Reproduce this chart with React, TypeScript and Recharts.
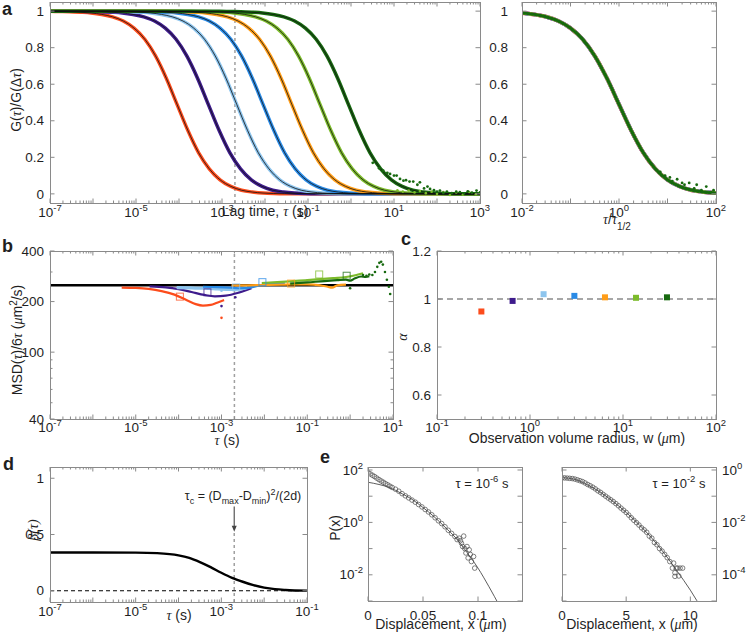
import React from 'react';
import { ComposedChart, Line, Scatter, XAxis, YAxis, ReferenceLine, ReferenceDot } from 'recharts';

const SANS = '"Liberation Sans", Arial, Helvetica, sans-serif';
const SERIF = '"Liberation Serif", "DejaVu Serif", serif';
const INK = '#1f1f1f';
const FRAME = '#8a8a8a';

// one colour per observation volume, smallest to largest
const COLORS = ['#fc4c1c', '#3e1b8c', '#8dc5ee', '#2a8be6', '#ff9d18', '#7cbb2b', '#17690f'];

// ---------- a: G(tau)/G(dtau) ----------
// collapsed curve (tau / tau_1/2 -> G)
const SHAPE_X = [1e-8, 1e-3, 0.00178, 0.00316, 0.00562, 0.01, 0.0178, 0.0316, 0.0562, 0.1, 0.178, 0.316, 0.562, 1, 1.78, 3.16, 5.62, 10, 17.8, 31.6, 56.2, 100, 178, 316, 1e8];
const SHAPE_G = [1, 0.999, 0.998, 0.997, 0.994, 0.99, 0.982, 0.969, 0.946, 0.907, 0.846, 0.755, 0.633, 0.49, 0.348, 0.226, 0.137, 0.077, 0.041, 0.02, 0.01, 0.0044, 0.0019, 0.0009, 0];
// half-decay lag time of each curve (s)
const TAU_HALF = [9e-5, 4.8e-4, 2.2e-3, 9e-3, 0.042, 0.19, 0.87];
// noisy tail of the largest volume
const A_TAIL_T = [3.2, 4.5, 5.6, 7, 8.1, 10, 11.5, 13.8, 16.6, 19, 23, 28, 35, 40, 50, 60, 69, 85, 100, 117, 140, 170, 220, 280, 340, 420, 520, 650, 830, 1000];
const A_TAIL_G = [0.17, 0.14, 0.127, 0.115, 0.109, 0.1, 0.1, 0.082, 0.072, 0.075, 0.067, 0.067, 0.05, 0.063, 0.03, 0.04, 0.027, 0.02, 0.012, 0.018, 0.005, 0.012, 0.004, 0.012, 0.009, 0.003, 0.014, 0.006, 0.018, 0.008];
const A_LG_T = [12, 16, 22, 30, 40, 55, 75, 100, 140, 200, 280, 400, 560, 800, 1000];
const A_LG_G = [0.02, 0.012, 0.018, 0.008, 0.015, 0.004, 0.012, 0, 0.01, -0.006, 0.008, -0.004, 0.01, -0.002, 0.006];
const A2_TAIL_X = [7.1, 8.9, 11.2, 12.6, 15.8, 20, 22.4, 28, 35.5, 40, 50, 63, 79, 89];
const A2_TAIL_G = [0.12, 0.1, 0.09, 0.07, 0.08, 0.06, 0.05, 0.06, 0.03, 0.05, 0.02, 0.04, 0.01, 0.02];
const A_X_EXP = [-7, -5, -3, -1, 1, 3];
const A2_X_EXP = [-2, 0, 2];
const A_Y_TICKS = [0, 0.2, 0.4, 0.6, 0.8, 1];
const T_MARK = 2e-3;

// ---------- b: MSD/6tau ----------
const B_T = [
  [4.7e-6, 1e-5, 2e-5, 4e-5, 8e-5, 1.6e-4, 2.5e-4, 3.7e-4, 5.6e-4, 7.9e-4, 1.15e-3],
  [2.1e-5, 5e-5, 1e-4, 2e-4, 4e-4, 7e-4, 1.26e-3, 2.5e-3, 5e-3],
  [9e-5, 2e-4, 4e-4, 8e-4, 1.6e-3, 2.5e-3, 4e-3],
  [3.7e-4, 8e-4, 1.6e-3, 2.5e-3, 5e-3, 9e-3, 1.6e-2, 3e-2],
  [1.7e-3, 4e-3, 1e-2, 2.5e-2, 4.2e-2, 0.1, 0.2, 0.3, 0.38, 0.5, 0.8],
  [8.7e-3, 2e-2, 4e-2, 0.1, 0.2, 0.4, 0.8, 1.4, 2],
  [4e-2, 0.1, 0.25, 0.5, 0.8, 1.0, 1.3, 1.8, 2.3, 2.8],
];
const B_V = [
  [242, 241, 238, 231, 220, 203, 193, 189, 191, 197, 204],
  [246, 243, 237, 228, 219, 215, 217, 226, 240],
  [242, 241, 240, 238, 236, 237, 242],
  [245, 244, 242, 240, 243, 252, 256, 257],
  [250, 250, 251, 252, 253, 253, 250, 245, 242, 250, 252],
  [258, 261, 264, 268, 272, 276, 280, 288, 295],
  [256, 260, 265, 268, 270, 266, 275, 282, 280, 283],
];
const B_GTAIL_T = [2.0, 2.4, 2.8, 3.3, 3.8, 4.3, 4.8, 5.3, 5.8, 6.5, 7.2, 8.0, 8.6];
const B_GTAIL_V = [288, 285, 290, 288, 300, 322, 340, 345, 332, 300, 270, 245, 222];
const B_DOT_T = [1e-3, 1e-3, 2.1e-3, 1e-3, 1.0];
const B_DOT_V = [160, 188, 212, 232, 240];
const B_DOT_C = [0, 1, 1, 2, 6];
const B_SQ_T = [1.07e-4, 4.7e-4, 2.2e-3, 9e-3, 0.042, 0.19, 0.83];
const B_SQ_V = [214, 227, 243, 261, 256, 290, 285];
const B_REF = 250;
const B_Y_TICKS = [40, 50, 60, 70, 80, 90, 100, 200, 300, 400];
const B_Y_LABELS = [40, 100, 200, 400];
const B_X_EXP = [-7, -5, -3, -1, 1];

// ---------- c: alpha ----------
const C_W = [0.3, 0.65, 1.4, 3.0, 6.4, 13.8, 29.7];
const C_ALPHA = [0.948, 0.992, 1.02, 1.013, 1.007, 1.005, 1.007];
const C_X_EXP = [-1, 0, 1, 2];
const C_Y_TICKS = [0.6, 0.8, 1, 1.2];

// ---------- d: beta(tau) ----------
const D_T = [1e-7, 1e-6, 1e-5, 3.16e-5, 1e-4, 1.78e-4, 3.16e-4, 5.62e-4, 1e-3, 1.78e-3, 3.16e-3, 5.62e-3, 1e-2, 1.78e-2, 3.16e-2, 1e-1];
const D_B = [0.34, 0.34, 0.339, 0.334, 0.315, 0.292, 0.255, 0.21, 0.16, 0.115, 0.08, 0.05, 0.028, 0.014, 0.007, 0.001];
const D_X_EXP = [-7, -5, -3, -1];
const D_Y_TICKS = [0, 0.5, 1];

// ---------- e: displacement distributions ----------
const E1_CX = [0, 0.01, 0.02, 0.03, 0.04, 0.05, 0.06, 0.07, 0.08, 0.09, 0.1, 0.11, 0.12];
const E1_CP = [34, 28, 21, 13, 7.6, 3.7, 1.66, 0.66, 0.25, 0.071, 0.018, 0.0035, 0.0006];
const E1_X = [0, 0.002, 0.004, 0.006, 0.008, 0.01, 0.012, 0.014, 0.016, 0.018, 0.02, 0.022, 0.025, 0.028, 0.031, 0.034, 0.037, 0.04, 0.043, 0.046, 0.049, 0.052, 0.055, 0.058, 0.061, 0.064, 0.067, 0.07, 0.073, 0.076, 0.079, 0.081, 0.083, 0.084, 0.085, 0.086, 0.087, 0.088, 0.089, 0.09, 0.091, 0.092, 0.093, 0.094, 0.096, 0.097];
const E1_P = [80, 71, 63, 56, 49, 43, 38, 34, 30, 27, 24, 21.5, 18.5, 15.5, 12.5, 10.3, 8.6, 7.1, 5.9, 4.8, 3.9, 3.1, 2.5, 1.95, 1.5, 1.15, 0.9, 0.68, 0.5, 0.38, 0.29, 0.22, 0.25, 0.2, 0.16, 0.12, 0.3, 0.1, 0.068, 0.12, 0.044, 0.09, 0.06, 0.032, 0.05, 0.018];
const E2_CX = [0, 1, 2, 3, 4, 5, 6, 7, 8, 9, 10, 11];
const E2_CP = [0.51, 0.44, 0.27, 0.14, 0.062, 0.024, 0.0083, 0.0025, 0.00063, 0.000132, 0.000026, 0.000004];
const E2_X = [0, 0.2, 0.4, 0.6, 0.8, 1.0, 1.2, 1.4, 1.6, 1.8, 2.0, 2.2, 2.4, 2.6, 2.8, 3.0, 3.2, 3.4, 3.6, 3.8, 4.0, 4.2, 4.4, 4.6, 4.8, 5.0, 5.2, 5.4, 5.6, 5.8, 6.0, 6.2, 6.4, 6.6, 6.8, 7.0, 7.2, 7.4, 7.6, 7.8, 8.0, 8.2, 8.4, 8.6, 8.7, 8.8, 8.9, 9.0, 9.1, 9.2, 9.4, 8.8];
const E2_P = [0.5, 0.5, 0.49, 0.48, 0.47, 0.45, 0.42, 0.39, 0.36, 0.32, 0.28, 0.25, 0.22, 0.19, 0.16, 0.14, 0.118, 0.1, 0.085, 0.073, 0.062, 0.052, 0.043, 0.035, 0.029, 0.024, 0.019, 0.015, 0.012, 0.0098, 0.0079, 0.0062, 0.0052, 0.0042, 0.003, 0.0025, 0.0017, 0.0014, 0.001, 0.0008, 0.0006, 0.00045, 0.00032, 0.00018, 0.00028, 0.00012, 0.00018, 0.00018, 0.00009, 0.00018, 0.00018, 0.000087];
const E1_X_TICKS = [0, 0.05, 0.1];
const E2_X_TICKS = [0, 5, 10];
const E1_Y_EXP = [-2, 0, 2];
const E2_Y_EXP = [0, -2, -4];

// ---------- helpers ----------
type Box = { x: number; y: number; w: number; h: number; right?: boolean };
type Lab = (v: number) => React.ReactNode;

const pts = (xs: number[], ys: number[]) => xs.map((x, i) => ({ x, y: ys[i] }));
const near = (a: number, b: number) => Math.abs(a - b) < 1e-7;
const isDecade = (v: number) => v > 0 && near(Math.log10(v), Math.round(Math.log10(v)));
const decades = (lo: number, hi: number) => {
  const out: number[] = [];
  for (let e = lo; e <= hi; e++) out.push(Math.pow(10, e));
  return out;
};
const logTicks = (lo: number, hi: number) => {
  const out: number[] = [];
  for (let e = lo; e < hi; e++) for (let m = 1; m < 10; m++) out.push(m * Math.pow(10, e));
  out.push(Math.pow(10, hi));
  return out;
};
const pow = (e: number) => [
  <tspan key="b">10</tspan>,
  <tspan key="e" dy={-6} fontSize={9.5}>{String(e)}</tspan>,
];
const expLabel = (exps: number[]): Lab => (v) =>
  isDecade(v) && exps.includes(Math.round(Math.log10(v))) ? pow(Math.round(Math.log10(v))) : null;
const numLabel = (vals: number[]): Lab => (v) => (vals.some((a) => near(a, v)) ? String(v) : null);

const TICK_FS = 13.5;
const PAD = { top: 20, right: 50, bottom: 40, left: 70 };

function xTick(b: Box, lab: Lab, major: (v: number) => boolean, gap: number) {
  return (p: any) => {
    const { x, y, payload } = p;
    const v = payload.value as number;
    const L = major(v) ? 4.5 : 2.5;
    const t = lab(v);
    return (
      <g>
        <line x1={x} x2={x} y1={y} y2={y - L} stroke={FRAME} />
        <line x1={x} x2={x} y1={y - b.h} y2={y - b.h + L} stroke={FRAME} />
        {t != null ? (
          <text x={x} y={y + gap} textAnchor="middle" fontSize={TICK_FS} fontFamily={SANS} fill={INK}>{t}</text>
        ) : null}
      </g>
    );
  };
}

function yTick(b: Box, lab: Lab, major: (v: number) => boolean, gap: number, right = false) {
  return (p: any) => {
    const { x, y, payload } = p;
    const v = payload.value as number;
    const L = major(v) ? 4.5 : 2.5;
    const s = right ? -1 : 1;
    const t = lab(v);
    return (
      <g>
        <line x1={x} x2={x + s * L} y1={y} y2={y} stroke={FRAME} />
        <line x1={x + s * b.w} x2={x + s * (b.w - L)} y1={y} y2={y} stroke={FRAME} />
        {t != null ? (
          <text x={x - s * gap} y={y + 4.7} textAnchor={right ? 'start' : 'end'} fontSize={TICK_FS} fontFamily={SANS} fill={INK}>{t}</text>
        ) : null}
      </g>
    );
  };
}

// axes are 1px thick so that recharts still draws them; the margins below make up for that
function xAxis(b: Box, domain: [number, number], ticks: number[], lab: Lab, log: boolean, major: (v: number) => boolean, gap: number) {
  return (
    <XAxis type="number" dataKey="x" scale={log ? 'log' : 'linear'} domain={domain} allowDataOverflow ticks={ticks}
      interval={0} height={1} tickSize={0} tickMargin={0} axisLine={false} tickLine={false}
      tick={xTick(b, lab, major, gap)} />
  );
}

function yAxis(b: Box, domain: [number, number], ticks: number[], lab: Lab, log: boolean, major: (v: number) => boolean, gap: number) {
  return (
    <YAxis type="number" dataKey="y" scale={log ? 'log' : 'linear'} domain={domain} allowDataOverflow ticks={ticks}
      orientation={b.right ? 'right' : 'left'} interval={0} width={1} tickSize={0} tickMargin={0} axisLine={false} tickLine={false}
      tick={yTick(b, lab, major, gap, b.right)} />
  );
}

function Frame({ b, children }: { b: Box; children: React.ReactNode }) {
  const margin = {
    top: PAD.top,
    bottom: PAD.bottom - 1,
    left: b.right ? PAD.left : PAD.left - 1,
    right: b.right ? PAD.right - 1 : PAD.right,
  };
  return (
    <>
      <div style={{ position: 'absolute', left: b.x - PAD.left, top: b.y - PAD.top }}>
        <ComposedChart width={b.w + PAD.left + PAD.right} height={b.h + PAD.top + PAD.bottom} margin={margin}>
          {children}
        </ComposedChart>
      </div>
      <div style={{ position: 'absolute', left: b.x, top: b.y, width: b.w + 1, height: b.h + 1, border: `1px solid ${FRAME}`, boxSizing: 'border-box', pointerEvents: 'none' }} />
    </>
  );
}

const dot = (r: number, fill: string) => (p: any) => <circle cx={p.cx} cy={p.cy} r={r} fill={fill} />;
const ring = (p: any) => <circle cx={p.cx} cy={p.cy} r={2.3} fill="none" stroke="#4a4a4a" strokeWidth={0.7} />;
const all = () => true;

// ---------- panels ----------
const A1: Box = { x: 50, y: 2, w: 430, h: 201 };
const A2: Box = { x: 522, y: 2, w: 194, h: 201 };
const B: Box = { x: 50, y: 251, w: 343, h: 168 };
const C: Box = { x: 437, y: 251, w: 279, h: 168 };
const D: Box = { x: 50, y: 467, w: 257, h: 135 };
const E1: Box = { x: 368, y: 467, w: 154, h: 134 };
const E2: Box = { x: 562, y: 467, w: 154, h: 134, right: true };

function PanelA1() {
  return (
    <Frame b={A1}>
      {xAxis(A1, [1e-7, 1e3], logTicks(-7, 3), expLabel(A_X_EXP), true, isDecade, 14)}
      {yAxis(A1, [-0.05, 1.05], A_Y_TICKS, numLabel(A_Y_TICKS), false, all, 6)}
      <ReferenceLine x={T_MARK} stroke="#a0a0a0" strokeDasharray="3 3" strokeWidth={1.5} />
      {TAU_HALF.map((th, i) => (
        <Line key={'a' + i} data={pts(SHAPE_X.map((s) => s * th), SHAPE_G)} dataKey="y" type="monotone"
          stroke={COLORS[i]} strokeWidth={3.5} dot={false} isAnimationActive={false} />
      ))}
      <Scatter data={pts(A_LG_T, A_LG_G)} shape={dot(1.3, COLORS[5])} isAnimationActive={false} />
      <Scatter data={pts(A_TAIL_T, A_TAIL_G)} shape={dot(1.4, COLORS[6])} isAnimationActive={false} />
      {TAU_HALF.map((th, i) => (
        <Line key={'f' + i} data={pts(SHAPE_X.map((s) => s * th), SHAPE_G)} dataKey="y" type="monotone"
          stroke="#111" strokeWidth={0.8} dot={false} isAnimationActive={false} />
      ))}
    </Frame>
  );
}

function PanelA2() {
  return (
    <Frame b={A2}>
      {xAxis(A2, [0.01, 100], logTicks(-2, 2), expLabel(A2_X_EXP), true, isDecade, 14)}
      {yAxis(A2, [-0.05, 1.05], A_Y_TICKS, numLabel(A_Y_TICKS), false, all, 14)}
      {COLORS.map((c, i) => (
        <Line key={'s' + i} data={pts(SHAPE_X, SHAPE_G)} dataKey="y" type="monotone"
          stroke={c} strokeWidth={4 - i * 0.2} dot={false} isAnimationActive={false} />
      ))}
      <Line data={pts(SHAPE_X, SHAPE_G)} dataKey="y" type="monotone" stroke={COLORS[6]} strokeWidth={2.6}
        strokeDasharray="2.5 1.5" dot={false} isAnimationActive={false} />
      <Scatter data={pts(A2_TAIL_X, A2_TAIL_G)} shape={dot(1.4, COLORS[6])} isAnimationActive={false} />
    </Frame>
  );
}

function PanelB() {
  return (
    <Frame b={B}>
      {xAxis(B, [1e-7, 10], logTicks(-7, 1), expLabel(B_X_EXP), true, isDecade, 13)}
      {yAxis(B, [40, 400], B_Y_TICKS, numLabel(B_Y_LABELS), true, (v) => B_Y_LABELS.includes(v), 6)}
      <ReferenceLine x={T_MARK} stroke="#a0a0a0" strokeDasharray="3 3" strokeWidth={1.5} />
      <ReferenceLine y={B_REF} stroke="#000" strokeWidth={2.4} />
      {B_T.map((ts, i) => (
        <Line key={'b' + i} data={pts(ts, B_V[i])} dataKey="y" type="monotone"
          stroke={COLORS[i]} strokeWidth={i === 2 ? 3.2 : 2.2} dot={false} isAnimationActive={false} />
      ))}
      <Scatter data={pts(B_GTAIL_T, B_GTAIL_V)} shape={dot(1.3, COLORS[6])} isAnimationActive={false} />
      <Scatter data={pts(B_DOT_T, B_DOT_V)} isAnimationActive={false}
        shape={(p: any) => <circle cx={p.cx} cy={p.cy} r={1.3} fill={COLORS[B_DOT_C[p.index] ?? 0]} />} />
      <Scatter data={pts(B_SQ_T, B_SQ_V)} isAnimationActive={false}
        shape={(p: any) => (
          <rect x={p.cx - 3.5} y={p.cy - 3.5} width={7} height={7} fill="none"
            stroke={COLORS[p.index] ?? '#888'} strokeOpacity={0.75} strokeWidth={1} />
        )} />
    </Frame>
  );
}

function PanelC() {
  return (
    <Frame b={C}>
      {xAxis(C, [0.1, 100], logTicks(-1, 2), expLabel(C_X_EXP), true, isDecade, 13)}
      {yAxis(C, [0.5, 1.2], C_Y_TICKS, numLabel(C_Y_TICKS), false, all, 6)}
      <ReferenceLine y={1} stroke="#8a8a8a" strokeDasharray="6 4" strokeWidth={1.3} />
      <Scatter data={pts(C_W, C_ALPHA)} isAnimationActive={false}
        shape={(p: any) => (
          <rect x={p.cx - 3} y={p.cy - 3} width={6} height={6} fill={COLORS[p.index] ?? '#888'} />
        )} />
    </Frame>
  );
}

function PanelD() {
  return (
    <Frame b={D}>
      {xAxis(D, [1e-7, 0.1], logTicks(-7, -1), expLabel(D_X_EXP), true, isDecade, 13.5)}
      {yAxis(D, [-0.1, 1.1], D_Y_TICKS, numLabel(D_Y_TICKS), false, all, 6)}
      <ReferenceLine y={0} stroke="#000" strokeDasharray="4 3" strokeWidth={1.2} />
      <ReferenceLine segment={[{ x: T_MARK, y: -0.1 }, { x: T_MARK, y: 0.52 }]} stroke="#a0a0a0" strokeDasharray="3 3" strokeWidth={1.5} />
      <ReferenceLine segment={[{ x: T_MARK, y: 0.75 }, { x: T_MARK, y: 0.56 }]} stroke="#555" strokeWidth={1.2} />
      <ReferenceDot x={T_MARK} y={0.525} r={3}
        shape={(p: any) => <path d={`M${p.cx - 2.5},${p.cy - 6}L${p.cx + 2.5},${p.cy - 6}L${p.cx},${p.cy}Z`} fill="#444" />} />
      <Line data={pts(D_T, D_B)} dataKey="y" type="monotone" stroke="#000" strokeWidth={2.4} dot={false} isAnimationActive={false} />
    </Frame>
  );
}

function PanelE1() {
  return (
    <Frame b={E1}>
      {xAxis(E1, [0, 0.14], E1_X_TICKS, numLabel(E1_X_TICKS), false, all, 19)}
      {yAxis(E1, [1e-3, 130], decades(-3, 2), expLabel(E1_Y_EXP), true, all, 5)}
      <Scatter data={pts(E1_X, E1_P)} shape={ring} isAnimationActive={false} />
      <Line data={pts(E1_CX, E1_CP)} dataKey="y" type="monotone" stroke="#333" strokeWidth={0.8} dot={false} isAnimationActive={false} />
    </Frame>
  );
}

function PanelE2() {
  return (
    <Frame b={E2}>
      {xAxis(E2, [0, 12], E2_X_TICKS, numLabel(E2_X_TICKS), false, all, 19)}
      {yAxis(E2, [1e-5, 1.3], decades(-5, 0), expLabel(E2_Y_EXP), true, all, 6)}
      <Scatter data={pts(E2_X, E2_P)} shape={ring} isAnimationActive={false} />
      <Line data={pts(E2_CX, E2_CP)} dataKey="y" type="monotone" stroke="#333" strokeWidth={0.8} dot={false} isAnimationActive={false} />
    </Frame>
  );
}

function Labels() {
  const tau = <tspan fontFamily={SERIF} fontStyle="italic">τ</tspan>;
  const mu = <tspan fontFamily={SERIF} fontStyle="italic">μ</tspan>;
  const bold = { fontSize: 18, fontWeight: 700 } as const;
  return (
    <svg width={747} height={636} style={{ position: 'absolute', left: 0, top: 0, pointerEvents: 'none' }}
      fontFamily={SANS} fill={INK} fontSize={14}>
      <text x={2} y={15} {...bold}>a</text>
      <text x={2} y={252} {...bold}>b</text>
      <text x={401} y={245} {...bold}>c</text>
      <text x={3} y={470} {...bold}>d</text>
      <text x={320} y={463} {...bold}>e</text>

      <text x={265} y={216} textAnchor="middle">Lag time, {tau} (s)</text>
      <text x={21} y={100} textAnchor="middle" transform="rotate(-90 21 100)">G({tau})/G(Δ{tau})</text>
      <text x={617} y={224} textAnchor="middle">{tau}/{tau}<tspan dy={6} fontSize={10}>1/2</tspan></text>

      <text x={22} y={340} textAnchor="middle" transform="rotate(-90 22 340)">
        MSD({tau})/6{tau} ({mu}m<tspan dy={-5} fontSize={10}>2</tspan><tspan dy={5}>/s)</tspan>
      </text>
      <text x={227} y={445} textAnchor="middle">{tau} (s)</text>

      <text x={407} y={337} textAnchor="middle" transform="rotate(-90 407 337)" fontFamily={SERIF} fontStyle="italic">α</text>
      <text x={577} y={443} textAnchor="middle">Observation volume radius, w ({mu}m)</text>

      <text x={38} y={530} textAnchor="middle" transform="rotate(-90 38 530)" fontFamily={SERIF} fontStyle="italic">β(τ)</text>
      <text x={179} y={620} textAnchor="middle">{tau} (s)</text>
      <text x={243} y={500} textAnchor="middle" fontSize={12.5}>
        τ<tspan dy={4} fontSize={9}>c</tspan><tspan dy={-4}> = (D</tspan><tspan dy={4} fontSize={9}>max</tspan>
        <tspan dy={-4}>-D</tspan><tspan dy={4} fontSize={9}>min</tspan><tspan dy={-4}>)</tspan>
        <tspan dy={-5} fontSize={9}>2</tspan><tspan dy={5}>/(2d)</tspan>
      </text>

      <text x={340} y={528} textAnchor="middle" transform="rotate(-90 340 528)">P(x)</text>
      <text x={441} y={629} textAnchor="middle">Displacement, x ({mu}m)</text>
      <text x={632} y={629} textAnchor="middle">Displacement, x ({mu}m)</text>
      <text x={482} y={488} textAnchor="middle" fontSize={13}>τ = 10<tspan dy={-6} fontSize={9.5}>-6</tspan><tspan dy={6}> s</tspan></text>
      <text x={679} y={488} textAnchor="middle" fontSize={13}>τ = 10<tspan dy={-6} fontSize={9.5}>-2</tspan><tspan dy={6}> s</tspan></text>
    </svg>
  );
}

export default function App() {
  return (
    <div style={{ position: 'absolute', left: 0, top: 0, width: 747, height: 636, background: '#fff', overflow: 'hidden', fontFamily: SANS }}>
      <PanelA1 />
      <PanelA2 />
      <PanelB />
      <PanelC />
      <PanelD />
      <PanelE1 />
      <PanelE2 />
      <Labels />
    </div>
  );
}
